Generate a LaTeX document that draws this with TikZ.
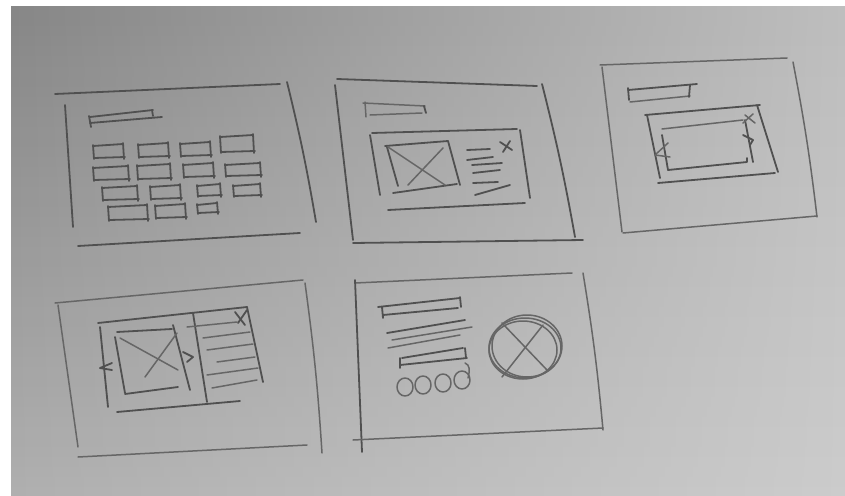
\documentclass[tikz,border=0pt]{standalone}
\begin{document}
\begin{tikzpicture}[x=1pt,y=-1pt,
  pen/.style={draw=pencil,line width=1.8pt,line cap=round,line join=round},
  lite/.style={draw=pencil!82!bgB,line width=1.5pt,line cap=round,line join=round}]
\definecolor{bgB}{RGB}{200,200,200}
\definecolor{pencil}{RGB}{80,80,80}
\useasboundingbox (0,0) rectangle (845,495);
\fill[white] (0,0) rectangle (845,495);
\begin{scope}
\clip (11,7) rectangle (845,495);
\foreach \i in {0,...,48} {
  \pgfmathsetmacro\vv{\i/48}
  \pgfmathtruncatemacro\LL{135+40*\vv}
  \pgfmathtruncatemacro\MM{170+32*\vv}
  \pgfmathtruncatemacro\RR{190+14*\vv}
  \definecolor{cl}{RGB}{\LL,\LL,\LL}
  \definecolor{cm}{RGB}{\MM,\MM,\MM}
  \definecolor{cr}{RGB}{\RR,\RR,\RR}
  \shade[left color=cl,middle color=cm,right color=cr] (11,7+\i*10) rectangle (845,17.6+\i*10);
}
\end{scope}
\newcommand{\cell}[4]{%
  \draw[pen] (#1,#2) -- (#3,#2-2);
  \draw[pen] (#1+1,#4) -- (#3+2,#4-1);
  \draw[pen] (#1,#2-1) -- (#1+1,#4+1);
  \draw[pen] (#3,#2-3) -- (#3+1,#4+1);}
% ---------- sketch 1 ----------
\draw[pen] (55,94) -- (280,84);
\draw[pen] (287,82) to[bend left=2] (316,222);
\draw[pen] (65,105) -- (73,227);
\draw[pen] (78,246) -- (300,233);
\draw[pen] (90,117) -- (153,110);
\draw[pen] (90,123) -- (162,117);
\draw[pen] (89,116) -- (91,127);
\draw[pen] (152,110) -- (153,116);
\cell{93}{146}{123}{158}\cell{138}{145}{168}{157}\cell{180}{144}{210}{156}\cell{220}{137}{253}{152}
\cell{93}{168}{128}{180}\cell{137}{166}{170}{179}\cell{183}{165}{213}{177}\cell{225}{165}{260}{176}
\cell{102}{188}{137}{200}\cell{150}{187}{180}{199}\cell{197}{186}{220}{196}\cell{233}{186}{260}{196}
\cell{108}{207}{147}{220}\cell{155}{206}{185}{218}\cell{197}{205}{217}{213}
% ---------- sketch 2 ----------
\draw[pen] (337,79) -- (537,86);
\draw[pen] (335,85) -- (353,240);
\draw[pen] (542,84) to[bend left=2] (575,237);
\draw[pen] (353,243) -- (583,240);
\draw[lite] (363,103) -- (425,106);
\draw[lite] (370,115) -- (422,113);
\draw[lite] (365,102) -- (366,117);
\draw[pen] (424,106) -- (426,113);
\draw[pen] (372,133) -- (517,129);
\draw[pen] (370,135) -- (380,195);
\draw[pen] (520,130) -- (530,198);
\draw[pen] (388,210) -- (525,203);
\draw[pen] (385,146) -- (448,141);
\draw[pen] (387,147) -- (398,186);
\draw[pen] (448,141) -- (460,185);
\draw[pen] (393,193) -- (457,184);
\draw[lite] (388,147) -- (445,185);
\draw[lite] (443,148) -- (408,185);
\draw[pen] (467,150) -- (490,149);
\draw[pen] (467,160) -- (493,157);
\draw[pen] (472,165) -- (502,163);
\draw[pen] (473,173) -- (500,170);
\draw[pen] (473,183) -- (498,182);
\draw[pen] (475,195) -- (510,185);
\draw[pen] (500,142) -- (512,150);
\draw[pen] (510,141) -- (503,152);
% ---------- sketch 3 ----------
\draw[lite] (600,65) -- (787,58);
\draw[lite] (602,67) -- (622,232);
\draw[lite] (793,62) to[bend left=2] (817,217);
\draw[lite] (623,233) -- (817,216);
\draw[pen] (628,90) -- (697,84);
\draw[lite] (630,102) -- (690,96);
\draw[pen] (628,88) -- (629,100);
\draw[pen] (690,85) -- (689,97);
\draw[pen] (645,115) -- (760,105);
\draw[pen] (647,115) -- (660,178);
\draw[pen] (757,105) -- (778,172);
\draw[pen] (658,183) -- (775,173);
\draw[lite] (662,129) -- (743,120);
\draw[pen] (662,135) -- (668,170);
\draw[pen] (668,170) -- (747,162) -- (747,158);
\draw[pen] (745,120) -- (753,162);
\draw[lite] (668,143) -- (655,155) -- (670,157);
\draw[pen] (743,135) -- (753,140) -- (750,145);
\draw[lite] (745,115) -- (755,123);
\draw[lite] (753,114) -- (743,123);
% ---------- sketch 4 ----------
\draw[lite] (55,303) -- (303,280);
\draw[lite] (58,305) -- (78,447);
\draw[lite] (305,283) to[bend left=2] (322,453);
\draw[lite] (78,457) -- (307,445);
\draw[pen] (98,323) -- (247,307);
\draw[pen] (100,327) -- (108,407);
\draw[pen] (117,412) -- (240,401);
\draw[pen] (247,307) -- (263,382);
\draw[pen] (193,313) -- (207,402);
\draw[pen] (117,332) -- (172,329);
\draw[pen] (115,337) -- (125,393);
\draw[pen] (125,394) -- (178,387);
\draw[pen] (173,325) -- (190,390);
\draw[lite] (120,338) -- (178,370);
\draw[lite] (145,377) -- (177,333);
\draw[pen] (112,363) -- (100,368) -- (112,370);
\draw[pen] (183,352) -- (193,357) -- (187,362);
\draw[lite] (187,327) -- (237,322);
\draw[lite] (203,338) -- (250,332);
\draw[lite] (207,350) -- (253,344);
\draw[lite] (217,362) -- (255,357);
\draw[lite] (207,375) -- (258,368);
\draw[lite] (212,388) -- (257,380);
\draw[pen] (235,312) -- (245,325);
\draw[pen] (247,310) -- (238,323);
% ---------- sketch 5 ----------
\draw[lite] (355,283) -- (572,273);
\draw[pen] (355,280) -- (362,452);
\draw[lite] (583,273) to[bend left=2] (603,430);
\draw[lite] (353,440) -- (603,428);
\draw[pen] (378,307) -- (460,298);
\draw[pen] (383,315) -- (458,308);
\draw[pen] (382,307) -- (383,318);
\draw[pen] (460,297) -- (461,307);
\draw[pen] (387,333) -- (465,320);
\draw[lite] (392,340) -- (472,327);
\draw[lite] (388,348) -- (460,335);
\draw[pen] (402,358) -- (463,348);
\draw[pen] (400,365) -- (467,358);
\draw[pen] (400,358) -- (400,368);
\draw[pen] (465,348) -- (466,358);
\draw[lite] (405,387) ellipse[x radius=8,y radius=9];
\draw[lite] (423,385) ellipse[x radius=8,y radius=9];
\draw[lite] (443,383) ellipse[x radius=8,y radius=9];
\draw[lite] (462,380) ellipse[x radius=8,y radius=9];
\draw[lite] (468,378) .. controls (470,370) and (470,365) .. (465,363);
\draw[lite] (525,348) ellipse[x radius=36,y radius=30];
\draw[lite] (527,346) ellipse[x radius=35,y radius=31];
\draw[lite] (523,350) ellipse[x radius=34,y radius=29];
\draw[lite] (502,323) -- (547,370);
\draw[lite] (543,325) -- (502,377);
\end{tikzpicture}
\end{document}
